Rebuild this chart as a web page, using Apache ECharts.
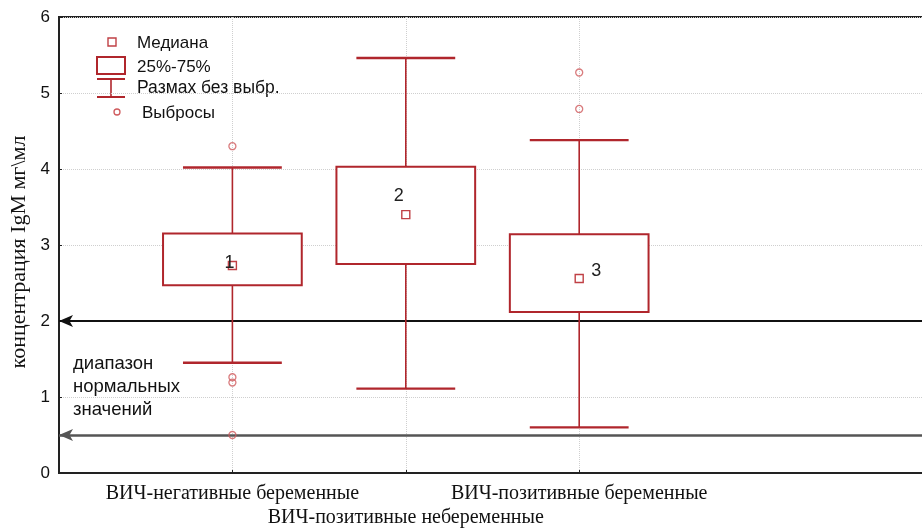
<!DOCTYPE html>
<html>
<head>
<meta charset="utf-8">
<script src="https://cdn.jsdelivr.net/npm/echarts@6/dist/echarts.min.js"></script>
<style>
  html, body { margin: 0; padding: 0; background: #fff; }
  #chart { width: 922px; height: 529px; }
</style>
</head>
<body>
<div id="chart"></div>
<script>
// Group names on the x axis (slots 0, 4 and 5 are empty spacer positions)
const categories = ['', 'ВИЧ-негативные беременные', 'ВИЧ-позитивные небеременные', 'ВИЧ-позитивные беременные', '', ''];
const groupSlots = [1, 2, 3];
const groupLabels = ['1', '2', '3'];

// Box statistics, IgM concentration (мг\мл)
const whiskerLow  = [1.45, 1.11, 0.60];
const quartile1   = [2.47, 2.75, 2.12];
const medians     = [2.73, 3.40, 2.56];
const quartile3   = [3.15, 4.03, 3.14];
const whiskerHigh = [4.02, 5.46, 4.38];

// Outliers as [slot, value]
const outliers = [[1, 4.30], [1, 1.26], [1, 1.19], [1, 0.50], [3, 5.27], [3, 4.79]];

// Bounds of the normal range
const normalRange = [0.5, 2.0];

// Y axis ticks
const yTicks = [0, 1, 2, 3, 4, 5, 6];

const boxData = groupSlots.map((s, i) =>
  [s, whiskerLow[i], quartile1[i], medians[i], quartile3[i], whiskerHigh[i]]);

const RED = '#b0262c';
const labelShift = [[-3, -2], [-7, -19], [17, -7]];

const chart = echarts.init(document.getElementById('chart'), null, { renderer: 'canvas' });

chart.setOption({
  backgroundColor: '#fff',
  animation: false,
  grid: {
    left: 59, top: 17, width: 867, height: 456,
    outerBoundsMode: 'none', containLabel: false,
    show: true, borderColor: '#222', borderWidth: 2
  },
  xAxis: {
    type: 'category',
    data: categories,
    boundaryGap: false,
    axisLine: { show: true, lineStyle: { color: '#222', width: 2 } },
    axisTick: { show: true, inside: true, length: 3, interval: (idx) => idx >= 1 && idx <= 3, lineStyle: { color: '#222' } },
    axisLabel: {
      interval: 0,
      margin: 9,
      fontFamily: 'Liberation Serif',
      fontSize: 20,
      lineHeight: 24,
      color: '#111',
      formatter: (v, idx) => (idx === 2 ? '\n' + v : v)
    },
    splitLine: { show: true, interval: (idx) => idx >= 1 && idx <= 3, lineStyle: { type: 'dotted', color: '#cfcfcf', width: 1 } }
  },
  yAxis: {
    type: 'value',
    min: yTicks[0],
    max: yTicks[yTicks.length - 1],
    interval: 1,
    axisLine: { show: true, lineStyle: { color: '#222', width: 2 } },
    axisTick: { show: true, inside: true, length: 3, lineStyle: { color: '#222' } },
    axisLabel: { margin: 9, fontFamily: 'Liberation Sans', fontSize: 17, color: '#111' },
    splitLine: { show: true, lineStyle: { type: 'dotted', color: '#cfcfcf', width: 1 } }
  },
  series: [
    {
      type: 'custom',
      data: boxData,
      encode: { x: 0, y: [1, 2, 3, 4, 5] },
      z: 5,
      renderItem: (params, api) => {
        const slot = api.value(0);
        const p = (k) => api.coord([slot, api.value(k)]);
        const lo = p(1), q1 = p(2), med = p(3), q3 = p(4), hi = p(5);
        const step = api.coord([2, 0])[0] - api.coord([1, 0])[0];
        const boxW = step * 0.80;
        const capW = step * 0.57;
        const x = lo[0];
        const sh = labelShift[params.dataIndex];
        return {
          type: 'group',
          children: [
            { type: 'line', shape: { x1: x, y1: hi[1], x2: x, y2: q3[1] }, style: { stroke: RED, lineWidth: 1.6 } },
            { type: 'line', shape: { x1: x, y1: q1[1], x2: x, y2: lo[1] }, style: { stroke: RED, lineWidth: 1.6 } },
            { type: 'line', shape: { x1: x - capW / 2, y1: hi[1], x2: x + capW / 2, y2: hi[1] }, style: { stroke: RED, lineWidth: 2.4 } },
            { type: 'line', shape: { x1: x - capW / 2, y1: lo[1], x2: x + capW / 2, y2: lo[1] }, style: { stroke: RED, lineWidth: 2.4 } },
            { type: 'rect', shape: { x: x - boxW / 2, y: q3[1], width: boxW, height: q1[1] - q3[1] }, style: { fill: '#fff', stroke: RED, lineWidth: 2 } },
            { type: 'rect', shape: { x: med[0] - 4, y: med[1] - 4, width: 8, height: 8 }, style: { fill: '#fff', stroke: '#c04045', lineWidth: 1.4 } },
            { type: 'text', x: med[0] + sh[0], y: med[1] + sh[1], style: { text: groupLabels[params.dataIndex], font: '18px "Liberation Sans"', fill: '#222', align: 'center', verticalAlign: 'middle' } }
          ]
        };
      }
    },
    {
      type: 'scatter',
      data: outliers,
      symbol: 'circle',
      symbolSize: 7,
      itemStyle: { color: 'rgba(255,255,255,0)', borderColor: '#cf5b5e', borderWidth: 1.3 },
      z: 6,
      markLine: {
        silent: true,
        symbol: ['arrow', 'none'],
        symbolSize: [9, 14],
        label: { show: false },
        data: [
          { yAxis: normalRange[1], lineStyle: { color: '#111', width: 2, type: 'solid' }, itemStyle: { color: '#111' } },
          { yAxis: normalRange[0], lineStyle: { color: '#555', width: 2.5, type: 'solid' }, itemStyle: { color: '#333' } }
        ]
      }
    }
  ],
  graphic: [
    { type: 'text', x: 19, y: 252, rotation: Math.PI / 2, style: { text: 'концентрация IgM мг\\мл', font: '22px "Liberation Serif"', fill: '#111', align: 'center', verticalAlign: 'middle' } },
    { type: 'text', left: 73, top: 352, style: { text: 'диапазон\nнормальных\nзначений', font: '18.5px "Liberation Sans"', fill: '#111', lineHeight: 23 } },
    // legend
    { type: 'rect', shape: { x: 108, y: 38, width: 8, height: 8 }, style: { fill: '#fff', stroke: '#c04045', lineWidth: 1.4 } },
    { type: 'text', x: 137, y: 43, style: { text: 'Медиана', font: '17px "Liberation Sans"', fill: '#111', verticalAlign: 'middle' } },
    { type: 'rect', shape: { x: 97, y: 57, width: 28, height: 17 }, style: { fill: '#fff', stroke: RED, lineWidth: 2 } },
    { type: 'text', x: 137, y: 67, style: { text: '25%-75%', font: '17px "Liberation Sans"', fill: '#111', verticalAlign: 'middle' } },
    { type: 'line', shape: { x1: 97, y1: 79, x2: 125, y2: 79 }, style: { stroke: RED, lineWidth: 2 } },
    { type: 'line', shape: { x1: 97, y1: 97, x2: 125, y2: 97 }, style: { stroke: RED, lineWidth: 2 } },
    { type: 'line', shape: { x1: 111, y1: 79, x2: 111, y2: 97 }, style: { stroke: RED, lineWidth: 1.6 } },
    { type: 'text', x: 137, y: 88, style: { text: 'Размах без выбр.', font: '17.5px "Liberation Sans"', fill: '#111', verticalAlign: 'middle' } },
    { type: 'circle', shape: { cx: 117, cy: 112, r: 3 }, style: { fill: '#fff', stroke: '#cf5b5e', lineWidth: 1.3 } },
    { type: 'text', x: 142, y: 113, style: { text: 'Выбросы', font: '17px "Liberation Sans"', fill: '#111', verticalAlign: 'middle' } }
  ]
});
</script>
</body>
</html>
